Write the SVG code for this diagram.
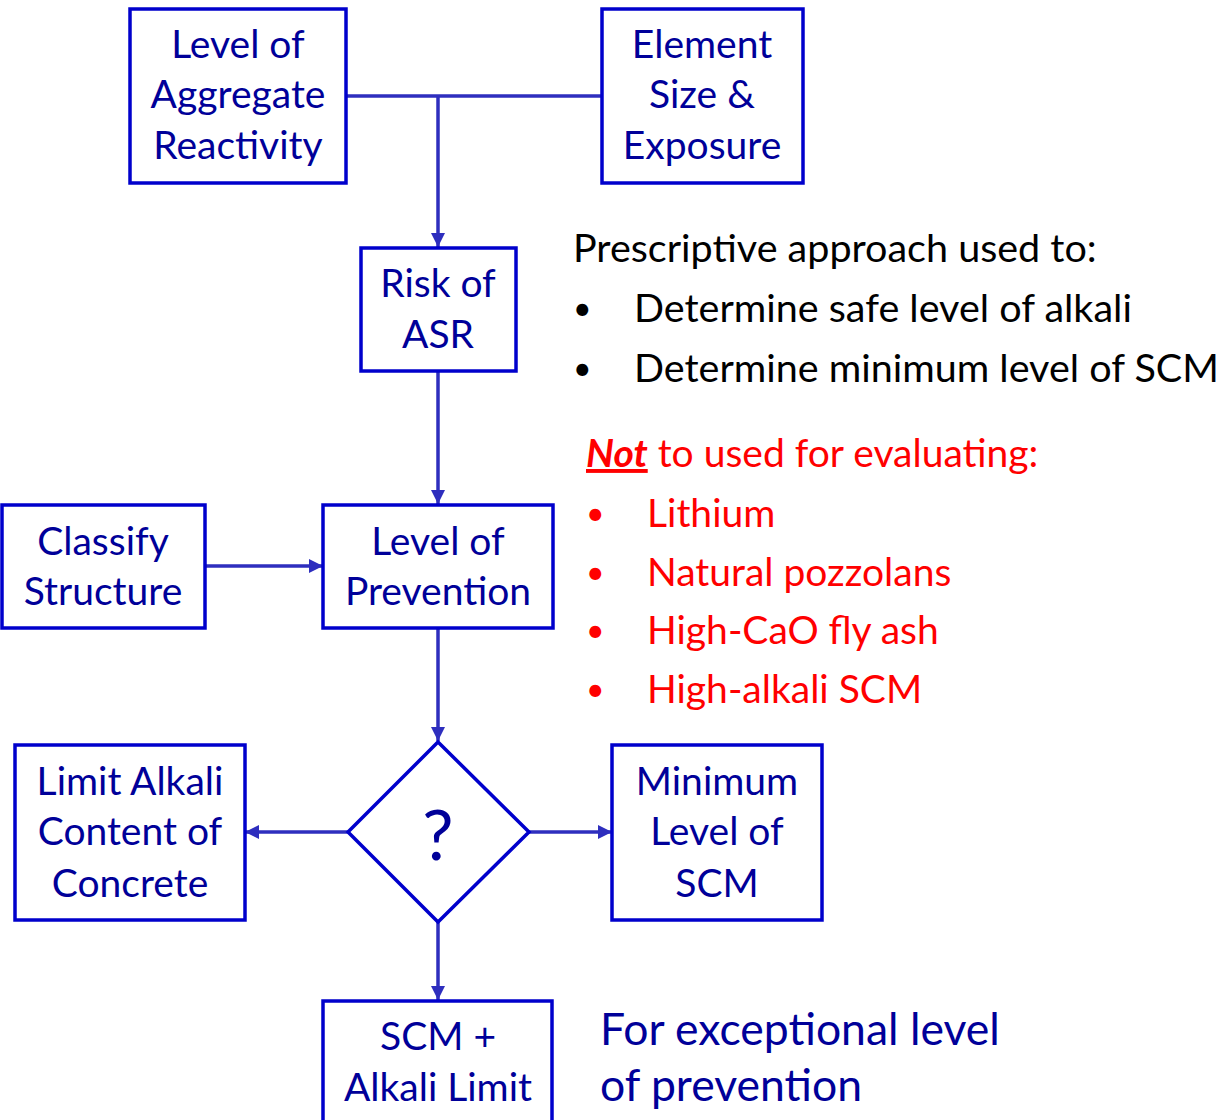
<svg xmlns="http://www.w3.org/2000/svg" width="1222" height="1120" viewBox="0 0 1222 1120">
<style>
.box{fill:#fff;stroke:#0000CC;stroke-width:3.5}
.t{font-family:Lato,"Liberation Sans",sans-serif;font-size:39px;fill:#000099;text-anchor:middle}
.c{stroke:#2E2EBE;stroke-width:3.5;fill:none}
.k{font-family:Lato,"Liberation Sans",sans-serif;font-size:39.5px;fill:#000}
.r{font-family:Lato,"Liberation Sans",sans-serif;font-size:39px;fill:#FF0000}
.bl{font-family:Lato,"Liberation Sans",sans-serif;font-size:32px}
.b{font-family:Lato,"Liberation Sans",sans-serif;font-size:44.5px;fill:#000099}
</style>
<defs>
<marker id="ar" viewBox="0 0 10 10" refX="10" refY="5" markerWidth="4" markerHeight="4" orient="auto" markerUnits="strokeWidth">
<path d="M0,0 L10,5 L0,10 z" fill="#2E2EBE"/>
</marker>
</defs>
<rect width="1222" height="1120" fill="#fff"/>
<g id="connectors">
<line class="c" x1="346" y1="96" x2="602" y2="96"/>
<line class="c" x1="438" y1="96" x2="438" y2="247" marker-end="url(#ar)"/>
<line class="c" x1="438" y1="371" x2="438" y2="504" marker-end="url(#ar)"/>
<line class="c" x1="205" y1="566" x2="323" y2="566" marker-end="url(#ar)"/>
<line class="c" x1="438" y1="628" x2="438" y2="741" marker-end="url(#ar)"/>
<line class="c" x1="348" y1="832" x2="245" y2="832" marker-end="url(#ar)"/>
<line class="c" x1="529" y1="832" x2="612" y2="832" marker-end="url(#ar)"/>
<line class="c" x1="438" y1="922" x2="438" y2="1000" marker-end="url(#ar)"/>
</g>
<g id="aggregate">
<rect class="box" x="130" y="9" width="216" height="174"/>
<text class="t" x="238" y="58">Level of</text>
<text class="t" x="238" y="108">Aggregate</text>
<text class="t" x="238" y="159">Reactivity</text>
</g>
<g id="element">
<rect class="box" x="602" y="9" width="201" height="174"/>
<text class="t" x="702" y="58">Element</text>
<text class="t" x="702" y="108">Size &amp;</text>
<text class="t" x="702" y="159">Exposure</text>
</g>
<g id="risk">
<rect class="box" x="361" y="248" width="155" height="123"/>
<text class="t" x="438" y="297">Risk of</text>
<text class="t" x="438" y="348">ASR</text>
</g>
<g id="classify">
<rect class="box" x="2" y="505" width="203" height="123"/>
<text class="t" x="103" y="555">Classify</text>
<text class="t" x="103" y="605">Structure</text>
</g>
<g id="prevention">
<rect class="box" x="323" y="505" width="230" height="123"/>
<text class="t" x="438" y="555">Level of</text>
<text class="t" x="438" y="605">Prevention</text>
</g>
<g id="decision">
<polygon class="box" points="438,742 529,832 438,922 348,832"/>
<text class="t" x="438" y="860" style="font-size:70px">?</text>
</g>
<g id="limit">
<rect class="box" x="15" y="745" width="230" height="175"/>
<text class="t" x="130" y="795">Limit Alkali</text>
<text class="t" x="130" y="845">Content of</text>
<text class="t" x="130" y="897">Concrete</text>
</g>
<g id="minimum">
<rect class="box" x="612" y="745" width="210" height="175"/>
<text class="t" x="717" y="795">Minimum</text>
<text class="t" x="717" y="845">Level of</text>
<text class="t" x="717" y="897">SCM</text>
</g>
<g id="scm">
<rect class="box" x="323" y="1001" width="229" height="130"/>
<text class="t" x="438" y="1050">SCM +</text>
<text class="t" x="438" y="1101">Alkali Limit</text>
</g>
<g id="notes">
<text class="k" x="573" y="262">Prescriptive approach used to:</text>
<text class="k bl" x="573" y="320">•</text>
<text class="k" x="634" y="322">Determine safe level of alkali</text>
<text class="k bl" x="573" y="380">•</text>
<text class="k" x="634" y="382">Determine minimum level of SCM</text>
<text class="r" x="586" y="467"><tspan font-weight="bold" font-style="italic" text-decoration="underline">Not</tspan> to used for evaluating:</text>
<text class="r bl" x="586" y="525">•</text>
<text class="r" x="647" y="527">Lithium</text>
<text class="r bl" x="586" y="584">•</text>
<text class="r" x="647" y="586">Natural pozzolans</text>
<text class="r bl" x="586" y="642">•</text>
<text class="r" x="647" y="644">High-CaO fly ash</text>
<text class="r bl" x="586" y="701">•</text>
<text class="r" x="647" y="703">High-alkali SCM</text>
<text class="b" x="600" y="1045">For exceptional level</text>
<text class="b" x="600" y="1101">of prevention</text>
</g>
</svg>
